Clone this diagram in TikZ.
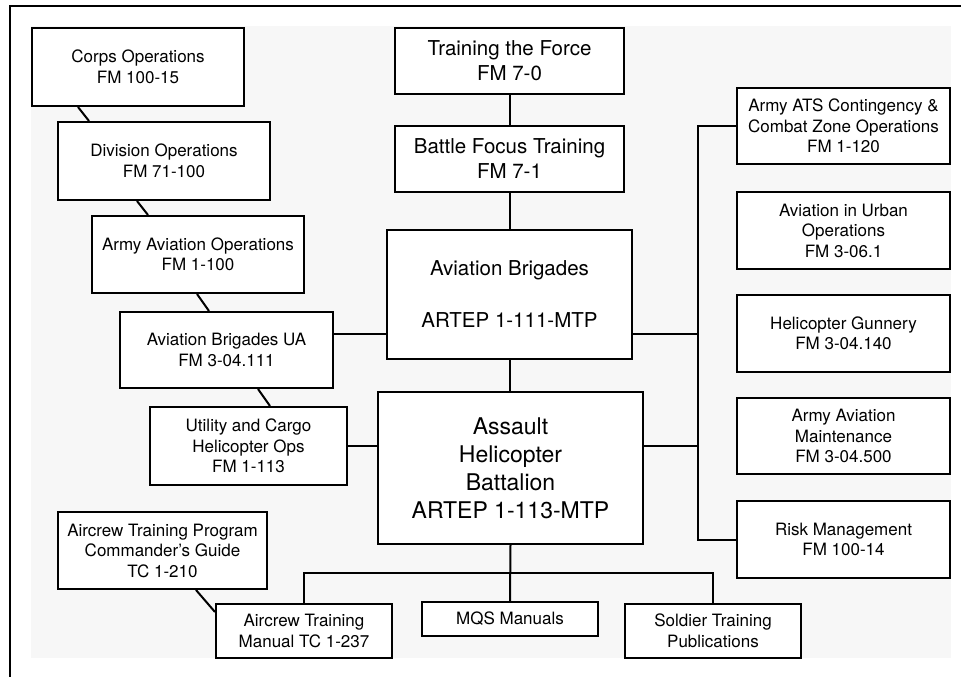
\documentclass[tikz,border=0pt]{standalone}
\usepackage{fontspec}
\setmainfont{TeX Gyre Heros}
\usetikzlibrary{calc}

\tikzset{
  docbox/.style={draw=black, fill=white, line width=2pt, inner sep=0pt, align=center,
    font=\fontsize{17}{20.5}\selectfont},
  midtext/.style={font=\fontsize{20.5}{25}\selectfont},
  bigtext/.style={font=\fontsize{23}{28}\selectfont},
  link/.style={draw=black, line width=2pt},
  frameline/.style={draw=black, line width=2.6pt}
}

% \docnode[style]{name}{x1}{y1}{x2}{y2}{text} -- box given by its corners
\newcommand{\docnode}[7][]{%
  \node[docbox, #1, minimum width={(#5-#3)*1pt}, minimum height={(#6-#4)*1pt}]
    (#2) at ({(#3+#5)/2},{(#4+#6)/2}) {#7};}

\begin{document}
\begin{tikzpicture}[x=1pt,y=-1pt]
\useasboundingbox (0,0) rectangle (961,677);

% page frame and shaded panel
\fill[black!3] (31,26) rectangle (951,658);
\draw[frameline] (961,6) -- (10,6) -- (10,677);

% left column
\docnode{corps}{32}{28}{244}{106}{Corps Operations\\FM 100-15}
\docnode{div}{58}{122}{270}{200}{Division Operations\\FM 71-100}
\docnode{aao}{92}{216}{304}{293}{Army Aviation Operations\\FM 1-100}
\docnode{ua}{120}{312}{333}{388}{Aviation Brigades UA\\FM 3-04.111}
\docnode{util}{150}{407}{347}{485}{Utility and Cargo\\Helicopter Ops\\FM 1-113}
\docnode{atp}{58}{512}{267}{589}{Aircrew Training Program\\Commander’s Guide\\TC 1-210}

% centre column
\docnode[midtext]{train}{395}{28}{624}{94}{Training the Force\\FM 7-0}
\docnode[midtext]{battle}{395}{126}{624}{192}{Battle Focus Training\\FM 7-1}
\docnode[midtext]{avb}{387}{230}{632}{359}{Aviation Brigades\\[27pt]ARTEP 1-111-MTP}
\docnode[bigtext]{assault}{378}{392}{643}{544}{Assault\\Helicopter\\Battalion\\ARTEP 1-113-MTP}

% bottom row
\docnode{atm}{216}{604}{392}{658}{Aircrew Training\\Manual TC 1-237}
\docnode{mqs}{422}{602}{598}{636}{MQS Manuals}
\docnode{stp}{625}{604}{801}{658}{Soldier Training\\Publications}

% right column
\docnode{ats}{737}{88}{950}{164}{Army ATS Contingency \&\\Combat Zone Operations\\FM 1-120}
\docnode{urban}{737}{192}{950}{269}{Aviation in Urban\\Operations\\FM 3-06.1}
\docnode{gun}{737}{295}{950}{372}{Helicopter Gunnery\\FM 3-04.140}
\docnode{maint}{737}{398}{950}{474}{Army Aviation\\Maintenance\\FM 3-04.500}
\docnode{risk}{737}{501}{950}{578}{Risk Management\\FM 100-14}

% bus positions
\coordinate (rbus) at (698,334);
\coordinate (bbus) at (510,573);

% left chain of diagonal links
\draw[link] ($(corps.south west)+(47,0)$) -- ($(div.north west)+(32,0)$);
\draw[link] ($(div.south west)+(80,0)$) -- ($(aao.north west)+(57,0)$);
\draw[link] ($(aao.south west)+(106,0)$) -- ($(ua.north west)+(90,0)$);
\draw[link] ($(ua.south west)+(139,0)$) -- ($(util.north west)+(121,0)$);
\draw[link] ($(atp.south west)+(139,0)$) -- ($(atm.north west)+(0,9)$);

% centre spine
\draw[link] (train.south) -- (battle.north);
\draw[link] (battle.south) -- (avb.north);
\draw[link] (avb.south) -- (avb.south |- assault.north);
\draw[link] (ua.east |- rbus) -- (avb.west |- rbus);
\draw[link] (util.east) -- (util.east -| assault.west);

% right bus
\draw[link] (avb.east |- rbus) -- (rbus);
\draw[link] (assault.east |- util.east) -- (rbus |- util.east);
\draw[link] (ats.west) -- (ats.west -| rbus) -- (risk.west -| rbus) -- (risk.west);

% bottom bus
\draw[link] (assault.south) -- (mqs.north);
\draw[link] (atm.north) -- (atm.north |- bbus) -- (stp.north |- bbus) -- (stp.north);

\end{tikzpicture}
\end{document}
